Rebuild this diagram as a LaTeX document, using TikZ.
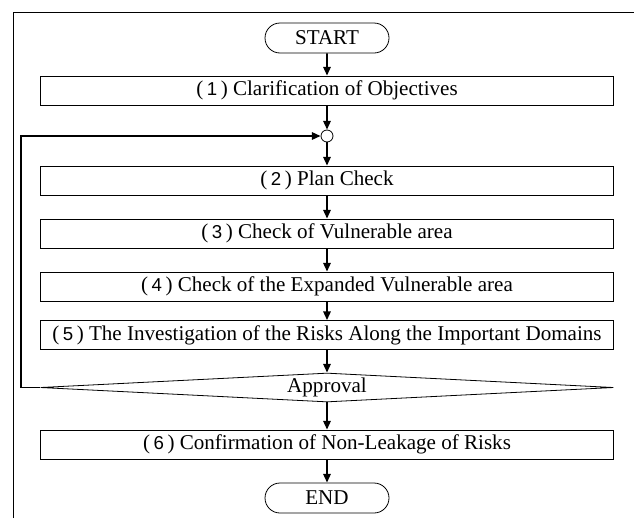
\documentclass[tikz,border=0pt]{standalone}
\usepackage{fontspec}
\setmainfont{Liberation Serif}
\setsansfont{Liberation Sans}
\usetikzlibrary{arrows.meta,shapes.geometric,shapes.misc}
\newcommand{\stepno}[1]{(\,{\sffamily\fontsize{14}{16}\selectfont #1}\,)\ }
\tikzset{
  stepbox/.style={draw, line width=0.6pt, minimum width=429.75pt, minimum height=21.75pt, inner sep=0pt},
  term/.style={draw, line width=0.6pt, rounded rectangle, minimum width=93pt, minimum height=22.5pt, inner sep=0pt},
  approve/.style={draw, line width=0.6pt, diamond, aspect=20, minimum width=429.75pt, minimum height=21.75pt, inner sep=0pt},
  junction/.style={draw, line width=0.6pt, circle, minimum size=9pt, inner sep=0pt},
  flow/.style={line width=1.4pt, -{Triangle[length=6.5pt,width=5.5pt]}}
}
\begin{document}
\begin{tikzpicture}[x=0.75pt,y=-0.75pt, font=\fontsize{15.8}{18}\selectfont]
\useasboundingbox (0,0) rectangle (634,518);
\draw[line width=0.6pt](13,518)|-(634,12);
\node[term] at (327,38)  (start) {START};
\node[stepbox] at (327,90.5)  (s1) {\stepno{1}Clarification of Objectives};
\node[junction] at (327,136)  (jn) {};
\node[stepbox] at (327,180.5)  (s2) {\stepno{2}Plan Check};
\node[stepbox] at (327,233.5)  (s3) {\stepno{3}Check of Vulnerable area};
\node[stepbox] at (327,286.5)  (s4) {\stepno{4}Check of the Expanded Vulnerable area};
\node[stepbox] at (327,335)  (s5) {\stepno{5}The Investigation of the Risks Along the Important Domains};
\node[approve] at (327,387.5)  (ok) {Approval};
\node[stepbox] at (327,444.5)  (s6) {\stepno{6}Confirmation of Non-Leakage of Risks};
\node[term] at (327,498)  (end) {END};
\draw[flow](start)--(s1);
\draw[flow](s1)--(jn);
\draw[flow](jn)--(s2);
\draw[flow](s2)--(s3);
\draw[flow](s3)--(s4);
\draw[flow](s4)--(s5);
\draw[flow](s5)--(ok);
\draw[flow](ok)--(s6);
\draw[flow](s6)--(end);
\draw[flow](ok.west)-|(20.7,136)--(jn.west);
\end{tikzpicture}
\end{document}
